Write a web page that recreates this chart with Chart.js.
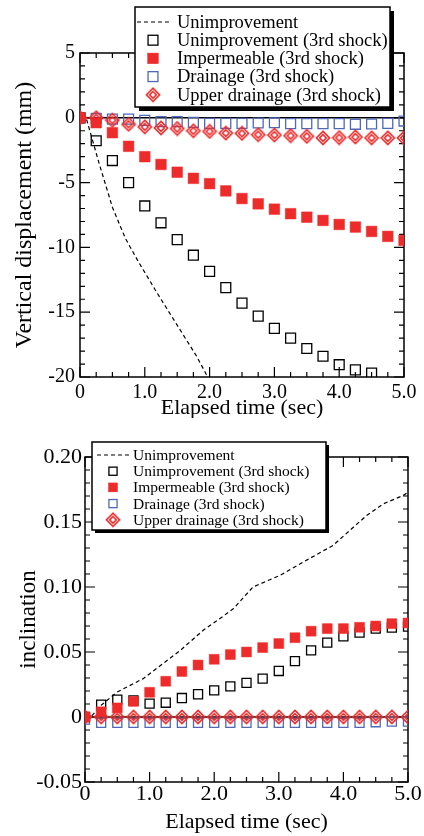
<!DOCTYPE html>
<html>
<head>
<meta charset="utf-8">
<script src="https://cdn.jsdelivr.net/npm/chart.js@4.4.1/dist/chart.umd.min.js"></script>
<style>
  html, body { margin: 0; padding: 0; background: #fff; }
  .panel { position: absolute; left: 0; width: 424px; height: 418px; }
  #topPanel { top: 0; }
  #bottomPanel { top: 418px; }
</style>
</head>
<body>
<div class="panel" id="topPanel"><canvas id="dispChart" width="424" height="418"></canvas></div>
<div class="panel" id="bottomPanel"><canvas id="inclChart" width="424" height="418"></canvas></div>
<script>
// ---- data ----
const TIME = [0, 0.25, 0.5, 0.75, 1.0, 1.25, 1.5, 1.75, 2.0, 2.25, 2.5, 2.75, 3.0, 3.25, 3.5, 3.75, 4.0, 4.25, 4.5, 4.75, 5.0];

// vertical displacement (mm)
const DISP_UNIMP_T = [0, 0.1, 0.3, 0.5, 0.7, 0.9, 1.2, 1.5, 1.8, 1.97];
const DISP_UNIMP = [0, -0.1, -3.6, -6.9, -9.3, -11.1, -13.6, -16.0, -18.4, -20.0];
const DISP_UNIMP_3RD = [0, -1.77, -3.3, -5.0, -6.8, -8.1, -9.4, -10.6, -11.85, -13.1, -14.3, -15.3, -16.25, -17.0, -17.8, -18.4, -19.05, -19.45, -19.7, null, null];
const DISP_IMPERM = [0, -0.38, -1.15, -2.2, -3.0, -3.6, -4.2, -4.67, -5.08, -5.64, -6.23, -6.64, -7.05, -7.4, -7.67, -7.92, -8.23, -8.43, -8.77, -9.15, -9.46];
const DISP_DRAIN = [0, -0.05, -0.1, -0.1, -0.2, -0.3, -0.3, -0.35, -0.43, -0.43, -0.43, -0.4, -0.38, -0.45, -0.45, -0.45, -0.45, -0.5, -0.48, -0.43, -0.25];
const DISP_UPPER = [0, 0, -0.18, -0.5, -0.7, -0.78, -0.83, -1.0, -1.05, -1.18, -1.2, -1.3, -1.33, -1.38, -1.43, -1.55, -1.53, -1.48, -1.55, -1.55, -1.55];

// inclination
const INCL_UNIMP_T = [0, 0.1, 0.25, 0.49, 0.9, 1.47, 1.83, 2.04, 2.3, 2.6, 3.02, 3.48, 3.84, 4.1, 4.36, 4.62, 4.93, 5.0];
const INCL_UNIMP = [0, 0.0005, 0.009, 0.019, 0.0295, 0.051, 0.0667, 0.074, 0.0834, 0.1, 0.109, 0.122, 0.132, 0.1436, 0.155, 0.164, 0.1705, 0.173];
const INCL_UNIMP_3RD = [0, 0.0095, 0.0134, 0.0128, 0.0103, 0.011, 0.0146, 0.0175, 0.0205, 0.0236, 0.0262, 0.0295, 0.0354, 0.043, 0.0513, 0.0572, 0.062, 0.065, 0.068, 0.0688, 0.0695];
const INCL_IMPERM = [0, 0.004, 0.007, 0.012, 0.019, 0.0275, 0.035, 0.040, 0.0444, 0.048, 0.050, 0.0534, 0.0565, 0.061, 0.066, 0.068, 0.068, 0.069, 0.070, 0.0718, 0.0723];
const INCL_DRAIN = [-0.002, -0.0045, -0.0045, -0.0045, -0.0045, -0.0045, -0.0045, -0.0045, -0.0045, -0.0045, -0.0045, -0.0045, -0.0045, -0.0045, -0.0045, -0.0045, -0.0045, -0.0045, -0.004, -0.0035, -0.0035];
const INCL_UPPER = [0, 0, 0, 0, 0, 0, 0, 0, 0, 0, 0, 0, 0, 0, 0, 0, 0, 0, 0, 0, 0];

const LABELS = ['Unimprovement', 'Unimprovement (3rd shock)', 'Impermeable (3rd shock)', 'Drainage (3rd shock)', 'Upper drainage (3rd shock)'];

const SERIF = "'Liberation Serif', 'Times New Roman', serif";
const RED = '#ee2b2b';
const BLUE = '#4f68b8';

function pts(xs, ys) {
    return xs.map((x, i) => ({ x: x, y: ys[i] }));
}

// double diamond marker
function diamondImage(size, outer, inner, color) {
    const c = document.createElement('canvas');
    c.width = c.height = size;
    const g = c.getContext('2d');
    const m = size / 2;
    g.strokeStyle = color;
    g.lineWidth = 1.6;
    [outer, inner].forEach(r => {
        g.beginPath();
        g.moveTo(m, m - r);
        g.lineTo(m + r, m);
        g.lineTo(m, m + r);
        g.lineTo(m - r, m);
        g.closePath();
        g.stroke();
    });
    return c;
}

// frame, inward tick marks and zero line
const frameTicks = {
    id: 'frameTicks',
    beforeDatasetsDraw(chart, args, opts) {
        const { ctx, chartArea: a, scales: { x, y } } = chart;
        const isMajor = (v, step) => Math.abs(v / step - Math.round(v / step)) < 1e-6;
        ctx.save();
        ctx.strokeStyle = '#000';
        ctx.lineWidth = 1.2;
        ctx.beginPath();
        for (let i = 0; ; i++) {
            const v = x.min + i * opts.xMinor;
            if (v > x.max + 1e-9) break;
            const px = x.getPixelForValue(v);
            const len = isMajor(v, opts.xMajor) ? 10 : 5;
            ctx.moveTo(px, a.bottom); ctx.lineTo(px, a.bottom - len);
            ctx.moveTo(px, a.top); ctx.lineTo(px, a.top + len);
        }
        for (let i = 0; ; i++) {
            const v = y.min + i * opts.yMinor;
            if (v > y.max + 1e-9) break;
            const py = y.getPixelForValue(v);
            const len = isMajor(v, opts.yMajor) ? 10 : 5;
            ctx.moveTo(a.left, py); ctx.lineTo(a.left + len, py);
            ctx.moveTo(a.right, py); ctx.lineTo(a.right - len, py);
        }
        ctx.stroke();
        ctx.lineWidth = 1.5;
        ctx.strokeRect(a.left, a.top, a.right - a.left, a.bottom - a.top);
        const y0 = y.getPixelForValue(0);
        ctx.beginPath();
        ctx.moveTo(a.left, y0);
        ctx.lineTo(a.right, y0);
        ctx.stroke();
        ctx.restore();
    }
};

// boxed legend with drop shadow
const boxLegend = {
    id: 'boxLegend',
    afterDraw(chart, args, o) {
        const ctx = chart.ctx;
        ctx.save();
        ctx.fillStyle = '#000';
        ctx.fillRect(o.left + o.shadow, o.top + o.shadow, o.right - o.left, o.bottom - o.top);
        ctx.fillStyle = '#fff';
        ctx.fillRect(o.left, o.top, o.right - o.left, o.bottom - o.top);
        ctx.strokeStyle = '#000';
        ctx.lineWidth = 1.5;
        ctx.strokeRect(o.left, o.top, o.right - o.left, o.bottom - o.top);
        ctx.font = o.fontSize + 'px ' + SERIF;
        ctx.textBaseline = 'middle';
        ctx.textAlign = 'left';
        chart.data.datasets.forEach((ds, i) => {
            const cy = o.rowY + i * o.rowGap;
            if (ds.showLine) {
                ctx.save();
                ctx.strokeStyle = ds.borderColor;
                ctx.lineWidth = ds.borderWidth;
                ctx.setLineDash(ds.borderDash);
                ctx.beginPath();
                ctx.moveTo(o.lineX1, cy);
                ctx.lineTo(o.lineX2, cy);
                ctx.stroke();
                ctx.restore();
            } else if (ds.pointStyle === 'rect') {
                const s = ds.pointRadius * Math.SQRT2 * o.markerScale;
                ctx.fillStyle = ds.pointBackgroundColor;
                ctx.fillRect(o.markerX - s / 2, cy - s / 2, s, s);
                ctx.strokeStyle = ds.pointBorderColor;
                ctx.lineWidth = ds.pointBorderWidth;
                ctx.strokeRect(o.markerX - s / 2, cy - s / 2, s, s);
            } else {
                const img = ds.pointStyle;
                ctx.drawImage(img, o.markerX - img.width / 2, cy - img.height / 2);
            }
            ctx.fillStyle = '#000';
            ctx.fillText(ds.label, o.textX, cy + 1);
        });
        ctx.restore();
    }
};

function buildDatasets(lineT, lineV, unimp3, imperm, drain, upper, sq, redSq, diamond) {
    return [
        { label: LABELS[0], data: pts(lineT, lineV), showLine: true, pointRadius: 0,
          borderColor: '#000', borderWidth: 1.2, borderDash: [4, 3], order: 5 },
        { label: LABELS[1], data: pts(TIME, unimp3), pointStyle: 'rect', pointRadius: sq,
          pointBackgroundColor: 'rgba(0,0,0,0)', pointBorderColor: '#000', pointBorderWidth: 1.3, order: 4 },
        { label: LABELS[2], data: pts(TIME, imperm), pointStyle: 'rect', pointRadius: redSq,
          pointBackgroundColor: RED, pointBorderColor: RED, pointBorderWidth: 0.5, order: 2 },
        { label: LABELS[3], data: pts(TIME, drain), pointStyle: 'rect', pointRadius: sq,
          pointBackgroundColor: 'rgba(0,0,0,0)', pointBorderColor: BLUE, pointBorderWidth: 1.3, order: 3 },
        { label: LABELS[4], data: pts(TIME, upper), pointStyle: diamond, order: 1 }
    ];
}

function axisFont(size) {
    return { family: SERIF, size: size, lineHeight: 1 };
}

// ---- top: vertical displacement ----
new Chart(document.getElementById('dispChart'), {
    type: 'scatter',
    data: {
        datasets: buildDatasets(DISP_UNIMP_T, DISP_UNIMP, DISP_UNIMP_3RD, DISP_IMPERM, DISP_DRAIN, DISP_UPPER,
            7, 7.5, diamondImage(16, 6.6, 3.3, RED))
    },
    options: {
        responsive: false,
        animation: false,
        layout: { padding: { left: 0, right: 20, top: 53, bottom: 0 } },
        plugins: {
            legend: { display: false },
            tooltip: { enabled: false },
            frameTicks: { xMinor: 0.25, xMajor: 1, yMinor: 1, yMajor: 5 },
            boxLegend: { left: 135, top: 7, right: 390, bottom: 107, shadow: 4, fontSize: 18.5,
                rowY: 22, rowGap: 18.2, markerX: 153, markerScale: 1, lineX1: 137, lineX2: 172, textX: 177 }
        },
        scales: {
            x: {
                type: 'linear', min: 0, max: 5,
                grid: { display: false, drawTicks: false }, border: { display: false },
                ticks: { stepSize: 1, padding: 6, color: '#000', font: axisFont(20), maxRotation: 0,
                    callback: v => v === 0 ? '0' : v.toFixed(1) },
                title: { display: true, text: 'Elapsed time (sec)', color: '#000', font: axisFont(22),
                    padding: { top: 0, bottom: -1 } },
                afterFit: s => { s.height = 41; }
            },
            y: {
                min: -20, max: 5,
                grid: { display: false, drawTicks: false }, border: { display: false },
                ticks: { stepSize: 5, padding: 5, color: '#000', font: axisFont(20),
                    callback: v => String(v) },
                title: { display: true, text: 'Vertical displacement (mm)', color: '#000', font: axisFont(24),
                    padding: { top: 13, bottom: 0 } },
                afterFit: s => { s.width = 80; }
            }
        }
    },
    plugins: [frameTicks, boxLegend]
});

// ---- bottom: inclination ----
new Chart(document.getElementById('inclChart'), {
    type: 'scatter',
    data: {
        datasets: buildDatasets(INCL_UNIMP_T, INCL_UNIMP, INCL_UNIMP_3RD, INCL_IMPERM, INCL_DRAIN, INCL_UPPER,
            6.4, 7, diamondImage(16, 6.6, 3.3, RED))
    },
    options: {
        responsive: false,
        animation: false,
        layout: { padding: { left: 0, right: 16, top: 39, bottom: 0 } },
        plugins: {
            legend: { display: false },
            tooltip: { enabled: false },
            frameTicks: { xMinor: 0.25, xMajor: 1, yMinor: 0.01, yMajor: 0.05 },
            boxLegend: { left: 92, top: 24, right: 326, bottom: 112, shadow: 3, fontSize: 15.5,
                rowY: 37, rowGap: 16.2, markerX: 113, markerScale: 0.9, lineX1: 97, lineX2: 130, textX: 133 }
        },
        scales: {
            x: {
                type: 'linear', min: 0, max: 5,
                grid: { display: false, drawTicks: false }, border: { display: false },
                ticks: { stepSize: 1, padding: 1, color: '#000', font: axisFont(22), maxRotation: 0,
                    callback: v => v === 0 ? '0' : v.toFixed(1) },
                title: { display: true, text: 'Elapsed time (sec)', color: '#000', font: axisFont(22),
                    padding: { top: 0, bottom: 3 } },
                afterFit: s => { s.height = 54; }
            },
            y: {
                min: -0.05, max: 0.2,
                grid: { display: false, drawTicks: false }, border: { display: false },
                ticks: { stepSize: 0.05, padding: 3, color: '#000', font: axisFont(22),
                    callback: v => Math.abs(v) < 1e-9 ? '0' : v.toFixed(2) },
                title: { display: true, text: 'inclination', color: '#000', font: axisFont(23),
                    padding: { top: 17, bottom: 0 } },
                afterFit: s => { s.width = 85; }
            }
        }
    },
    plugins: [frameTicks, boxLegend]
});
</script>
</body>
</html>
